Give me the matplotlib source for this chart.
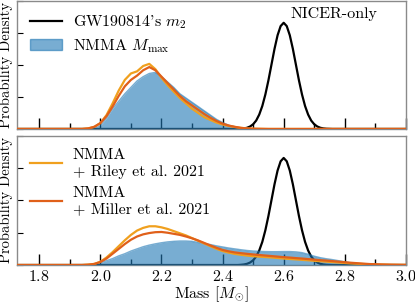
import numpy as np
import matplotlib
matplotlib.use("Agg")
import matplotlib.pyplot as plt
from matplotlib.patches import Patch
from matplotlib.ticker import MultipleLocator

plt.rcParams['font.family'] = ['cmr10', 'DejaVu Serif']
plt.rcParams['mathtext.fontset'] = 'cm'
plt.rcParams['axes.formatter.use_mathtext'] = True
plt.rcParams['axes.unicode_minus'] = False

# GW190814 secondary mass (same in both panels)
m_gw = [1.70, 2.45, 2.46, 2.47, 2.48, 2.49, 2.50, 2.51, 2.52, 2.53, 2.54, 2.55,
        2.56, 2.57, 2.58, 2.59, 2.60, 2.61, 2.62, 2.63, 2.64, 2.65, 2.66, 2.67,
        2.68, 2.69, 2.70, 2.71, 2.72, 2.73, 2.74, 2.75, 2.76, 3.00]
p_gw = [0.0, 0.0, 0.02, 0.05, 0.11, 0.23, 0.44, 0.79, 1.35, 2.15, 3.23, 4.55,
        6.03, 7.51, 8.78, 9.64, 9.95, 9.64, 8.78, 7.51, 6.03, 4.55, 3.23, 2.15,
        1.35, 0.79, 0.44, 0.23, 0.11, 0.05, 0.02, 0.01, 0.0, 0.0]

# top panel: NICER-only
m_top = [1.70, 1.94, 1.96, 1.98, 2.00, 2.02, 2.04, 2.06, 2.08, 2.10, 2.12, 2.14,
         2.16, 2.18, 2.20, 2.22, 2.24, 2.26, 2.28, 2.30, 2.32, 2.34, 2.36, 2.38,
         2.40, 2.42, 2.44, 2.46, 2.48, 2.50, 2.55, 3.00]
mmax_top = [0.0, 0.0, 0.0, 0.05, 0.3, 1.0, 1.9, 2.6, 3.3, 3.9, 4.5, 4.9,
            5.2, 5.3, 4.9, 4.4, 3.9, 3.3, 2.9, 2.5, 2.1, 1.7, 1.3, 0.9,
            0.6, 0.35, 0.2, 0.1, 0.05, 0.0, 0.0, 0.0]
riley_top = [0.0, 0.0, 0.05, 0.2, 0.55, 1.3, 2.4, 3.6, 4.6, 5.2, 5.4, 5.9,
             6.1, 5.6, 4.8, 4.1, 3.5, 2.9, 2.4, 1.9, 1.5, 1.1, 0.85, 0.6,
             0.42, 0.28, 0.18, 0.1, 0.05, 0.02, 0.0, 0.0]
miller_top = [0.0, 0.0, 0.05, 0.2, 0.55, 1.2, 2.1, 3.1, 4.0, 4.6, 5.0, 5.5,
              5.8, 5.5, 4.9, 4.3, 3.7, 3.1, 2.6, 2.2, 1.8, 1.4, 1.05, 0.75,
              0.5, 0.32, 0.2, 0.1, 0.05, 0.02, 0.0, 0.0]

# bottom panel
m_bot = [1.70, 1.94, 1.96, 1.98, 2.00, 2.02, 2.04, 2.06, 2.08, 2.10, 2.12, 2.14,
         2.16, 2.18, 2.20, 2.22, 2.24, 2.26, 2.28, 2.30, 2.32, 2.34, 2.36, 2.38,
         2.40, 2.42, 2.44, 2.46, 2.48, 2.50, 2.52, 2.54, 2.56, 2.58, 2.60, 2.62,
         2.64, 2.66, 2.68, 2.70, 2.72, 2.74, 2.76, 2.78, 2.80, 2.82, 2.84, 2.86,
         2.88, 2.90, 2.92, 2.95, 3.00]
mmax_bot = [0.0, 0.0, 0.0, 0.05, 0.2, 0.4, 0.6, 0.85, 1.05, 1.3, 1.5, 1.7,
            1.85, 1.97, 2.07, 2.15, 2.2, 2.23, 2.23, 2.2, 2.1, 2.0, 1.9, 1.78,
            1.68, 1.58, 1.5, 1.42, 1.35, 1.3, 1.27, 1.25, 1.24, 1.24, 1.25, 1.25,
            1.22, 1.15, 1.0, 0.82, 0.68, 0.58, 0.5, 0.4, 0.3, 0.2, 0.13, 0.08,
            0.04, 0.02, 0.0, 0.0, 0.0]
riley_bot = [0.0, 0.0, 0.03, 0.1, 0.3, 0.7, 1.2, 1.75, 2.3, 2.8, 3.2, 3.45,
             3.6, 3.6, 3.5, 3.35, 3.15, 2.95, 2.75, 2.5, 2.25, 2.0, 1.75, 1.5,
             1.3, 1.15, 1.03, 0.95, 0.88, 0.82, 0.78, 0.74, 0.7, 0.65, 0.6, 0.56,
             0.52, 0.48, 0.44, 0.39, 0.35, 0.31, 0.27, 0.23, 0.19, 0.15, 0.12, 0.09,
             0.07, 0.05, 0.04, 0.02, 0.01]
miller_bot = [0.0, 0.0, 0.03, 0.1, 0.28, 0.6, 1.05, 1.5, 1.95, 2.35, 2.65, 2.85,
              2.97, 3.05, 3.07, 3.0, 2.9, 2.8, 2.65, 2.48, 2.28, 2.05, 1.82, 1.6,
              1.4, 1.27, 1.17, 1.1, 1.04, 0.98, 0.93, 0.88, 0.83, 0.78, 0.73, 0.69,
              0.64, 0.6, 0.55, 0.5, 0.45, 0.41, 0.36, 0.31, 0.26, 0.21, 0.17, 0.13,
              0.09, 0.07, 0.05, 0.03, 0.01]

c_blue = '#1f77b4'
c_riley = '#f0a01e'
c_miller = '#e0601a'
c_frame = '#8a8a8a'
fs = 11.5

fig = plt.figure(figsize=(4.15, 3.02), dpi=100)
ax1 = fig.add_axes([0.041, 0.573, 0.937, 0.424])
ax2 = fig.add_axes([0.041, 0.1225, 0.937, 0.4275])


def panel(ax, m, mmax, riley, miller):
    ax.plot(m_gw, p_gw, color='k', lw=1.6, zorder=2)
    ax.fill_between(m, mmax, color=c_blue, alpha=0.6, lw=0, zorder=3)
    ax.plot(m[1:-1], mmax[1:-1], color=c_blue, alpha=0.6, lw=1.0, zorder=3)
    ax.plot(m, riley, color=c_riley, lw=1.6, zorder=4)
    ax.plot(m, miller, color=c_miller, lw=1.6, zorder=4)
    ax.set_xlim(1.727, 3.0)
    ax.set_ylim(0, 12)
    ax.xaxis.set_major_locator(MultipleLocator(0.2))
    ax.xaxis.set_minor_locator(MultipleLocator(0.1))
    ax.yaxis.set_major_locator(MultipleLocator(3))
    ax.tick_params(axis='x', which='major', direction='in', length=8, width=1.0,
                   labelsize=fs, pad=3)
    ax.tick_params(axis='x', which='minor', direction='in', length=4, width=1.0)
    ax.tick_params(axis='y', which='major', direction='in', length=4, width=0.8,
                   labelleft=False)
    for s in ax.spines.values():
        s.set_color(c_frame)
        s.set_linewidth(1.0)
    ax.set_ylabel('Probability Density', fontsize=10.5, labelpad=3)


panel(ax1, m_top, mmax_top, riley_top, miller_top)
panel(ax2, m_bot, mmax_bot, riley_bot, miller_bot)

ax1.tick_params(axis='x', labelbottom=False)
ax1.text(0.928, 0.95, 'NICER-only', transform=ax1.transAxes, ha='right',
         va='top', fontsize=fs)
h1 = [plt.Line2D([], [], color='k', lw=1.6),
      Patch(facecolor=c_blue, edgecolor=c_blue, alpha=0.6)]
ax1.legend(h1, ["GW190814's $m_2$", r'NMMA $M_{\rm max}$'], loc='upper left',
           frameon=False, fontsize=fs, handlelength=2.0, borderaxespad=0.4,
           labelspacing=0.35, handletextpad=0.7)

h2 = [plt.Line2D([], [], color=c_riley, lw=1.6),
      plt.Line2D([], [], color=c_miller, lw=1.6)]
ax2.legend(h2, ['NMMA\n+ Riley et al. 2021', 'NMMA\n+ Miller et al. 2021'],
           loc='upper left', frameon=False, fontsize=fs, handlelength=2.0,
           borderaxespad=0.4, labelspacing=0.5, borderpad=0.4,
           handletextpad=0.7)
ax2.set_xlabel(r'Mass [$M_{\odot}$]', fontsize=fs, labelpad=0)

fig.savefig('out.png', dpi=100)
